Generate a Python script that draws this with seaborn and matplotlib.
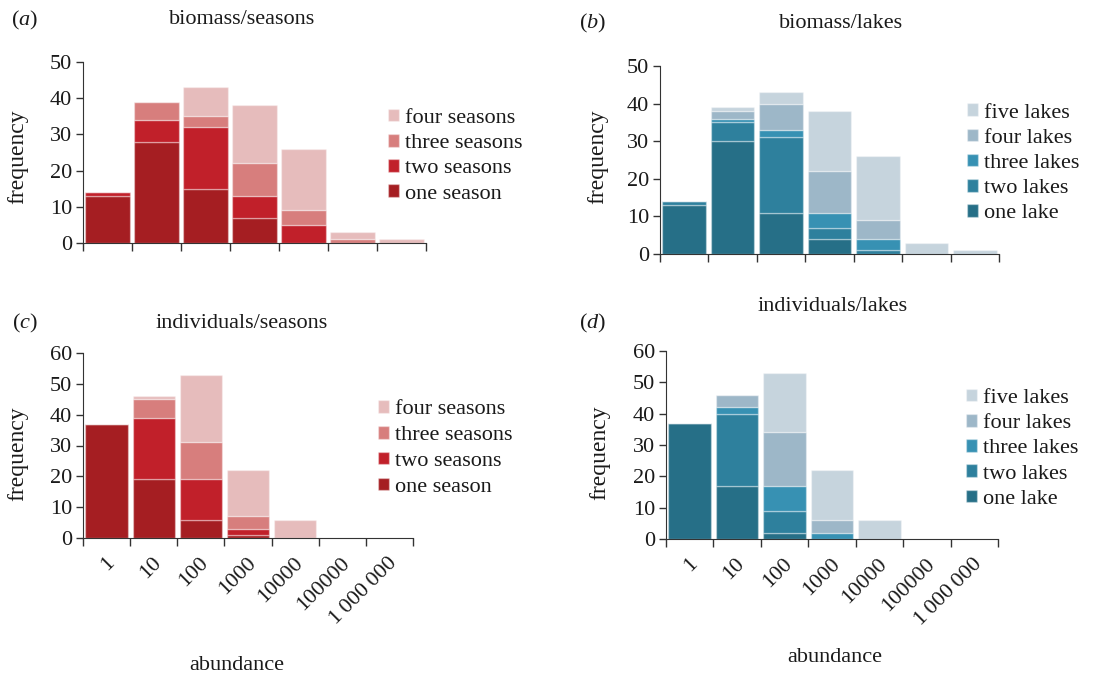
import numpy as np
import pandas as pd
import matplotlib
matplotlib.use("Agg")
import matplotlib.pyplot as plt
import matplotlib.transforms as mtransforms
import seaborn as sns

sns.set_style("ticks")
plt.rcParams['font.family'] = ['Liberation Serif', 'DejaVu Serif']
plt.rcParams['mathtext.fontset'] = 'custom'
plt.rcParams['mathtext.it'] = 'Liberation Serif:italic'
plt.rcParams['mathtext.rm'] = 'Liberation Serif'
plt.rcParams['axes.edgecolor'] = '#333333'
plt.rcParams['xtick.color'] = '#333333'
plt.rcParams['ytick.color'] = '#333333'
plt.rcParams['xtick.labelcolor'] = '#1a1a1a'
plt.rcParams['ytick.labelcolor'] = '#1a1a1a'
plt.rcParams['text.color'] = '#1a1a1a'

# ---------------- data: counts per abundance class (log10 bins) ----------------
abund_labels = ["1", "10", "100", "1000", "10000", "100000", "1\u2009000\u2009000"]

season_names = ["four seasons", "three seasons", "two seasons", "one season"]
season_colors = ["#e6bcbc", "#d77e7d", "#c1202a", "#a51e22"]
lake_names = ["five lakes", "four lakes", "three lakes", "two lakes", "one lake"]
lake_colors = ["#c6d4dd", "#9db7c8", "#3791b3", "#2e809d", "#266f87"]

# (a) biomass / seasons
bio_one_season   = [13, 28, 15, 7, 0, 0, 0]
bio_two_season   = [1, 6, 17, 6, 5, 0, 0]
bio_three_season = [0, 5, 3, 9, 4, 1, 0]
bio_four_season  = [0, 0, 8, 16, 17, 2, 1]

# (b) biomass / lakes
bio_one_lake   = [13, 30, 11, 4, 0, 0, 0]
bio_two_lake   = [1, 5, 20, 3, 1, 0, 0]
bio_three_lake = [0, 1, 2, 4, 3, 0, 0]
bio_four_lake  = [0, 2, 7, 11, 5, 0, 0]
bio_five_lake  = [0, 1, 3, 16, 17, 3, 1]

# (c) individuals / seasons
ind_one_season   = [37, 19, 6, 1, 0, 0, 0]
ind_two_season   = [0, 20, 13, 2, 0, 0, 0]
ind_three_season = [0, 6, 12, 4, 0, 0, 0]
ind_four_season  = [0, 1, 22, 15, 6, 0, 0]

# (d) individuals / lakes
ind_one_lake   = [37, 17, 2, 0, 0, 0, 0]
ind_two_lake   = [0, 23, 7, 0, 0, 0, 0]
ind_three_lake = [0, 2, 8, 2, 0, 0, 0]
ind_four_lake  = [0, 4, 17, 4, 0, 0, 0]
ind_five_lake  = [0, 0, 19, 16, 6, 0, 0]


def long_table(names, series):
    rows = []
    for name, vals in zip(names, series):
        for i, v in enumerate(vals):
            rows.append({"logabund": i + 0.5, "group": name, "count": v})
    return pd.DataFrame(rows)


panels = [
    dict(tag="a", title="biomass/seasons", names=season_names, colors=season_colors,
         series=[bio_four_season, bio_three_season, bio_two_season, bio_one_season],
         ymax=50, rect=[83, 62, 426, 243], leg=(0.889, 0.48), lsp=0.27,
         title_xy=(242, 20), tag_xy=(11, 20), ylab_xy=(18, 157)),
    dict(tag="b", title="biomass/lakes", names=lake_names, colors=lake_colors,
         series=[bio_five_lake, bio_four_lake, bio_three_lake, bio_two_lake, bio_one_lake],
         ymax=50, rect=[660, 66, 999, 254], leg=(0.906, 0.482), lsp=0.27,
         title_xy=(841, 23), tag_xy=(579, 23), ylab_xy=(598, 157)),
    dict(tag="c", title="individuals/seasons", names=season_names, colors=season_colors,
         series=[ind_four_season, ind_three_season, ind_two_season, ind_one_season],
         ymax=60, rect=[83, 353, 413, 538], leg=(0.894, 0.484), lsp=0.3,
         title_xy=(242, 323), tag_xy=(12, 323), ylab_xy=(18, 454)),
    dict(tag="d", title="individuals/lakes", names=lake_names, colors=lake_colors,
         series=[ind_five_lake, ind_four_lake, ind_three_lake, ind_two_lake, ind_one_lake],
         ymax=60, rect=[666, 351, 998, 539], leg=(0.904, 0.48), lsp=0.27,
         title_xy=(833, 307), tag_xy=(579, 323), ylab_xy=(600, 453)),
]

W, H = 1117, 679
fig = plt.figure(figsize=(W / 100, H / 100), dpi=100)
FS = 16

for i, p in enumerate(panels):
    x0, y0, x1, y1 = p["rect"]
    ax = fig.add_axes([x0 / W, 1 - y1 / H, (x1 - x0) / W, (y1 - y0) / H])
    df = long_table(p["names"], p["series"])
    sns.histplot(data=df, x="logabund", hue="group", weights="count",
                 hue_order=p["names"], palette=p["colors"], multiple="stack",
                 bins=list(range(8)), shrink=0.9, alpha=1,
                 edgecolor=(1, 1, 1, 0.35), linewidth=1, ax=ax)
    ax.set_xlim(0, 7)
    ax.set_ylim(0, p["ymax"])
    ax.set_yticks(np.arange(0, p["ymax"] + 1, 10))
    ax.set_xticks(np.arange(0, 8))
    ax.set_xticklabels([])
    ax.set_xlabel("")
    ax.set_ylabel("")
    ax.tick_params(axis="both", labelsize=FS, width=1)
    ax.tick_params(axis="x", which="major", length=6)
    ax.tick_params(axis="y", length=5, pad=3)
    sns.despine(ax=ax)
    if i >= 2:
        ax.set_xticks(np.arange(7) + 0.5, minor=True)
        ax.set_xticklabels(abund_labels, minor=True, rotation=45,
                           ha="right", va="center", rotation_mode="anchor")
        ax.tick_params(axis="x", which="minor", length=0, pad=14, labelsize=FS)
        shift = mtransforms.ScaledTranslation(5 / 100, -3 / 100, fig.dpi_scale_trans)
        for lab in ax.get_xticklabels(minor=True):
            lab.set_transform(lab.get_transform() + shift)

    sns.move_legend(ax, "center left", bbox_to_anchor=p["leg"], title=None,
                    frameon=False, fontsize=FS, handlelength=0.5, handleheight=0.5,
                    handletextpad=0.25, labelspacing=p["lsp"], borderpad=0, borderaxespad=0)

    fig.text(p["title_xy"][0] / W, 1 - p["title_xy"][1] / H, p["title"],
             ha="center", va="center", fontsize=FS)
    fig.text(p["tag_xy"][0] / W, 1 - p["tag_xy"][1] / H, "($\\mathit{" + p["tag"] + "}$)",
             ha="left", va="center", fontsize=FS)
    fig.text(p["ylab_xy"][0] / W, 1 - p["ylab_xy"][1] / H, "frequency",
             ha="center", va="center", rotation=90, fontsize=FS + 1)

fig.text(237 / W, 1 - 665 / H, "abundance", ha="center", va="center", fontsize=FS)
fig.text(835 / W, 1 - 657 / H, "abundance", ha="center", va="center", fontsize=FS)

fig.savefig("out.png", dpi=100)
